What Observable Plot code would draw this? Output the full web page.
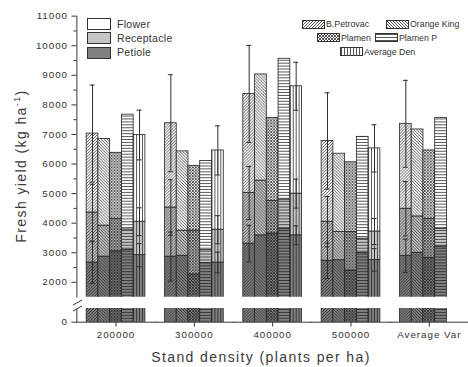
<!DOCTYPE html>
<html><head><meta charset="utf-8">
<script src="https://cdn.jsdelivr.net/npm/d3@7"></script>
<script src="https://cdn.jsdelivr.net/npm/@observablehq/plot@0.6"></script>
<style>
body{margin:0;background:#fff;overflow:hidden;font-family:"Liberation Sans",Arial,sans-serif;color:#333;}
#wrap{position:relative;width:468px;height:367px;overflow:hidden;background:#fff;}
#topChart{position:absolute;left:0;top:0;}
#botChart{position:absolute;left:0;top:308px;}
.t{position:absolute;white-space:nowrap;line-height:1;}
</style></head><body>
<svg width="0" height="0" style="position:absolute"><defs id="defs"></defs></svg>
<div id="wrap"><div id="topChart"></div><div id="botChart"></div></div>
<script>
const groups = ["200000", "300000", "400000", "500000", "Average Var"];
const varieties = ["B.Petrovac", "Orange King", "Plamen", "Plamen P", "Average Den"];
const components = ["Petiole", "Receptacle", "Flower"];
// fresh yield (kg/ha): rows = stand density groups, columns = varieties
const petiole = [
  [2670, 2870, 3050, 3100, 2920],
  [2870, 2900, 2270, 2650, 2670],
  [3310, 3590, 3650, 3800, 3590],
  [2730, 2750, 2400, 3000, 2760],
  [2900, 3000, 2830, 3210, null]
];
const receptacle = [
  [1690, 1050, 1090, 690, 1130],
  [1660, 850, 1480, 440, 1110],
  [1710, 1850, 1100, 1000, 1410],
  [1320, 950, 1300, 480, 960],
  [1590, 1230, 1310, 600, null]
];
const flower = [
  [2670, 2930, 2240, 3880, 2930],
  [2850, 2680, 2190, 3010, 2680],
  [3350, 3590, 2810, 4760, 3630],
  [2730, 2650, 2360, 3440, 2810],
  [2870, 2940, 2320, 3750, null]
];
// standard deviations drawn at the top of each component
const sdPetiole = [
  [700, null, null, null, 390],
  [830, null, null, null, 350],
  [620, null, null, null, 320],
  [600, null, null, null, 380],
  [560, null, null, null, null]
];
const sdReceptacle = [
  [960, null, null, null, 470],
  [940, null, null, null, 475],
  [900, null, null, null, 490],
  [850, null, null, null, 440],
  [920, null, null, null, null]
];
const sdTotal = [
  [1640, null, null, null, 840],
  [1640, null, null, null, 830],
  [1640, null, null, null, 810],
  [1630, null, null, null, 800],
  [1470, null, null, null, null]
];
const yTicks = [2000, 3000, 4000, 5000, 6000, 7000, 8000, 9000, 10000, 11000];
const yMinorTicks = [2500, 3500, 4500, 5500, 6500, 7500, 8500, 9500, 10500];
const yLowTicks = [0];

// ---- styles ----
const compFill = {Petiole: "#808080", Receptacle: "#c6c6c6", Flower: "#ffffff"};
const hatch = [
  {size: 3, d: "M-1,1L1,-1M0,3L3,0M2,4L4,2"},
  {size: 3, d: "M-1,2L1,4M0,0L3,3M2,-1L4,1"},
  {size: 3, d: "M0,0L3,3M3,0L0,3"},
  {size: 3, d: "M0,1.5H3"},
  {size: 3, d: "M1.5,0V3"}
];
const NS = "http://www.w3.org/2000/svg";
const defs = document.getElementById("defs");
varieties.forEach((v, vi) => components.forEach((c, ci) => {
  const h = hatch[vi];
  const p = document.createElementNS(NS, "pattern");
  p.setAttribute("id", `p${vi}${ci}`);
  p.setAttribute("patternUnits", "userSpaceOnUse");
  p.setAttribute("width", h.size); p.setAttribute("height", h.size);
  const r = document.createElementNS(NS, "rect");
  r.setAttribute("width", h.size); r.setAttribute("height", h.size);
  r.setAttribute("fill", compFill[c]);
  const path = document.createElementNS(NS, "path");
  path.setAttribute("d", h.d); path.setAttribute("stroke", "#1e1e1e");
  path.setAttribute("stroke-width", "0.75"); path.setAttribute("fill", "none");
  p.append(r, path); defs.append(p);
}));

// ---- tidy tables ----
const compArrays = [petiole, receptacle, flower];
const sdArrays = [sdPetiole, sdReceptacle, sdTotal];
const rows = [];
const errs = [];
groups.forEach((g, gi) => varieties.forEach((v, vi) => {
  if (petiole[gi][vi] == null) return;
  let cum = 0;
  components.forEach((c, ci) => {
    const val = compArrays[ci][gi][vi];
    rows.push({group: g, variety: v, component: c, value: val, fill: `url(#p${vi}${ci})`});
    cum += val;
    const sd = sdArrays[ci][gi][vi];
    if (sd != null) errs.push({group: g, variety: v, y: cum, sd});
  });
}));

const plotStyle = {fontFamily: '"Liberation Sans", Arial, sans-serif', fontSize: "10px", color: "#333", letterSpacing: "1px", background: "transparent", overflow: "visible"};
const fxOpt = {domain: groups, padding: 0};
const xOpt = {domain: varieties, paddingInner: 0, paddingOuter: 0.577, axis: null};
const bars = () => Plot.barY(rows, {fx: "group", x: "variety", y: "value", fill: "fill", stroke: "#222", strokeWidth: 0.8, clip: true});

const topPlot = Plot.plot({
  width: 478, height: 303, marginLeft: 78, marginRight: 0, marginTop: 16, marginBottom: 0,
  style: plotStyle,
  fx: {...fxOpt, axis: null},
  x: xOpt,
  y: {domain: [1500, 11000]},
  color: {type: "identity"},
  marks: [
    bars(),
    Plot.ruleX(errs, {fx: "group", x: "variety", y1: d => d.y - d.sd, y2: d => d.y + d.sd, stroke: "#2a2a2a", strokeWidth: 1}),
    Plot.tickY(errs, {fx: "group", x: "variety", y: d => d.y + d.sd, stroke: "#2a2a2a", insetLeft: 3.5, insetRight: 3.5}),
    Plot.tickY(errs, {fx: "group", x: "variety", y: d => d.y - d.sd, stroke: "#2a2a2a", insetLeft: 3.5, insetRight: 3.5}),
    Plot.axisY(yTicks, {tickSize: 5, tickPadding: 4, tickFormat: d3.format("d"), label: null}),
    Plot.axisY(yMinorTicks, {tickSize: 3, tickFormat: () => "", label: null}),
    Plot.frame({anchor: "left", facetAnchor: "left", stroke: "#333"})
  ]
});
document.getElementById("topChart").append(topPlot);

const botPlot = Plot.plot({
  width: 478, height: 59, marginLeft: 78, marginRight: 0, marginTop: 0, marginBottom: 45,
  style: plotStyle,
  fx: {...fxOpt, label: null},
  x: xOpt,
  y: {domain: [0, 460]},
  color: {type: "identity"},
  marks: [
    bars(),
    Plot.axisY(yLowTicks, {tickSize: 5, tickPadding: 4, tickFormat: d3.format("d"), label: null}),
    Plot.axisFx({anchor: "bottom", tickSize: 5, tickPadding: 4, label: null}),
    Plot.frame({anchor: "left", facetAnchor: "left", stroke: "#333"}),
    Plot.frame({anchor: "bottom", stroke: "#333"})
  ]
});
document.getElementById("botChart").append(botPlot);

// ---- overlays: titles, legends, axis break ----
const wrap = document.getElementById("wrap");
function text(html, x, y, css) {
  const d = document.createElement("div");
  d.className = "t"; d.innerHTML = html;
  d.style.left = x + "px"; d.style.top = y + "px";
  Object.assign(d.style, css || {});
  wrap.append(d); return d;
}
text("Stand density (plants per ha)", 261, 357, {fontSize: "14px", letterSpacing: "1.4px", color: "#3a3a3a", transform: "translate(-50%,-50%)"});
text('Fresh yield (kg ha<sup style="font-size:9px;vertical-align:6px">-1</sup>)', 20, 166, {fontSize: "14px", letterSpacing: "1.4px", color: "#3a3a3a", transform: "translate(-50%,-50%) rotate(-90deg)"});

// component legend
const compLegend = [["Flower", 23.5], ["Receptacle", 37.5], ["Petiole", 52]];
compLegend.forEach(([c, cy]) => {
  const b = document.createElement("div");
  Object.assign(b.style, {position: "absolute", left: "87px", top: (cy - 5.5) + "px", width: "22px", height: "10px", background: compFill[c], border: "1px solid #333"});
  wrap.append(b);
  text(c, 117, cy, {fontSize: "10.5px", transform: "translateY(-50%)", letterSpacing: "0.3px"});
});
// variety legend
const legendPos = [[302, 24], [386, 24], [317, 37.5], [375, 37.5], [340, 51.5]];
varieties.forEach((v, vi) => {
  const [lx, ly] = legendPos[vi];
  const s = document.createElementNS(NS, "svg");
  s.setAttribute("width", 23); s.setAttribute("height", 9);
  Object.assign(s.style, {position: "absolute", left: lx + "px", top: (ly - 4.5) + "px"});
  const r = document.createElementNS(NS, "rect");
  r.setAttribute("x", 0.5); r.setAttribute("y", 0.5); r.setAttribute("width", 22); r.setAttribute("height", 8);
  r.setAttribute("fill", `url(#p${vi}2)`); r.setAttribute("stroke", "#333");
  s.append(r); wrap.append(s);
  text(v, lx + 24, ly, {fontSize: "8.8px", transform: "translateY(-50%)"});
});
// axis break marker
const br = document.createElementNS(NS, "svg");
br.setAttribute("width", 20); br.setAttribute("height", 20);
Object.assign(br.style, {position: "absolute", left: "68px", top: "296px"});
br.innerHTML = '<polygon points="5,9 14,4 14,10 5,15" fill="#fff"/><line x1="5" y1="9" x2="14" y2="4" stroke="#333"/><line x1="5" y1="15" x2="14" y2="10" stroke="#333"/>';
wrap.append(br);
</script>
</body></html>
